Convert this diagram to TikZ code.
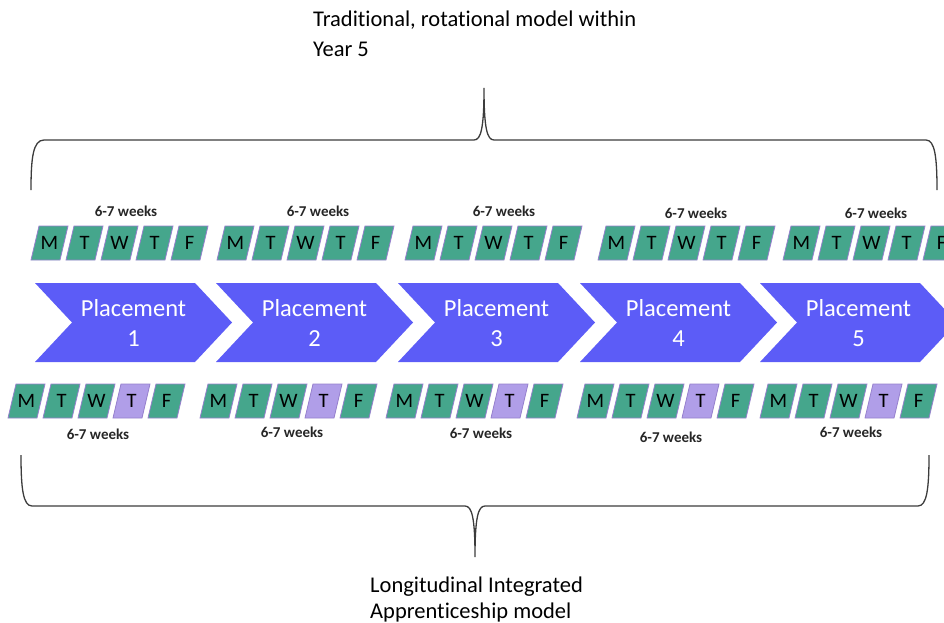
\documentclass[tikz,border=0pt]{standalone}
\usepackage{fontspec}
\setmainfont{Carlito}[Ligatures=NoCommon]
\definecolor{chev}{RGB}{92,92,247}
\definecolor{day}{RGB}{69,166,140}
\definecolor{dayedge}{RGB}{150,128,205}
\definecolor{lav}{RGB}{176,158,232}
\definecolor{bracecol}{RGB}{60,60,60}
\newcommand\weekrow[4]{%
  \foreach \d [count=\k from 0] in {M,T,W,T,F}{%
    \pgfmathsetmacro\xx{#2+35*\k}%
    \ifnum\k=#4 \tikzset{curbox/.style={lavbox}}\else\tikzset{curbox/.style={daybox}}\fi
    \path[curbox] (\xx,#3+34) -- (\xx+29,#3+34) -- (\xx+37,#3) -- (\xx+8,#3) -- cycle;
    \node[daytext] (#1-\k) at (\xx+18.5,#3+17) {\d};
  }%
}
\begin{document}
\begin{tikzpicture}[x=1pt,y=-1pt,
  daybox/.style={fill=day,draw=dayedge,line width=0.8pt},
  lavbox/.style={fill=lav,draw=dayedge,line width=0.8pt},
  daytext/.style={font=\fontsize{20.5}{20}\selectfont,text=black,inner sep=0pt},
  weeks/.style={font=\bfseries\fontsize{15}{15}\selectfont,text=black!85,inner sep=0pt},
  chevtext/.style={font=\fontsize{24.5}{30}\selectfont,text=white,align=center,inner sep=0pt},
  bracestyle/.style={draw=bracecol,line width=1.3pt},
  titletext/.style={font=\fontsize{22.5}{28}\selectfont,anchor=base west,inner sep=0pt,text=black}
]
\useasboundingbox (0,0) rectangle (944,623);
\clip (0,0) rectangle (944,623);

% chevrons
\foreach \L [count=\i] in {35,216,398,580,760}{
  \fill[chev] (\L,283) -- (\L+160,283) -- (\L+197,322.5) -- (\L+160,362) -- (\L,362) -- (\L+37,322.5) -- cycle;
  \node[chevtext] (pl\i) at (\L+98.5,323) {Placement\\\i};
}

% top week rows
\weekrow{ta}{31}{226}{-1}
\weekrow{tb}{217}{226}{-1}
\weekrow{tc}{405}{226}{-1}
\weekrow{td}{598}{226}{-1}
\weekrow{te}{783}{226}{-1}
% bottom week rows
\weekrow{ba}{8}{384}{3}
\weekrow{bb}{200}{384}{3}
\weekrow{bc}{386}{384}{3}
\weekrow{bd}{577}{384}{3}
\weekrow{be}{760}{384}{3}

% week labels
\node[weeks] (wta) at (126,211) {6-7 weeks};
\node[weeks] (wtb) at (318,211) {6-7 weeks};
\node[weeks] (wtc) at (504,211) {6-7 weeks};
\node[weeks] (wtd) at (696,213) {6-7 weeks};
\node[weeks] (wte) at (876,213) {6-7 weeks};
\node[weeks] (wba) at (98,434) {6-7 weeks};
\node[weeks] (wbb) at (292,432) {6-7 weeks};
\node[weeks] (wbc) at (481,433) {6-7 weeks};
\node[weeks] (wbd) at (671,437) {6-7 weeks};
\node[weeks] (wbe) at (851,432) {6-7 weeks};

% braces
\draw[bracestyle] (31,190) .. controls (31,158) and (33,140) .. (44,140) -- (474,140)
  .. controls (481,140) and (484,128) .. (484,88)
  .. controls (484,128) and (487,140) .. (494,140) -- (926,140)
  .. controls (935,140) and (937,158) .. (937,190);
\draw[bracestyle] (21,455) .. controls (21,488) and (23,506) .. (32,506) -- (465,506)
  .. controls (472,506) and (475,518) .. (475,557)
  .. controls (475,518) and (478,506) .. (485,506) -- (918,506)
  .. controls (927,506) and (929,488) .. (929,455);

% titles
\node[titletext] (toptitle) at (313,27) {Traditional, rotational model within};
\node[titletext] (topyear) at (313,57) {Year 5};
\node[titletext] (bottitle) at (370,592) {Longitudinal Integrated};
\node[titletext] (botmodel) at (370,618) {Apprenticeship model};
\end{tikzpicture}
\end{document}
